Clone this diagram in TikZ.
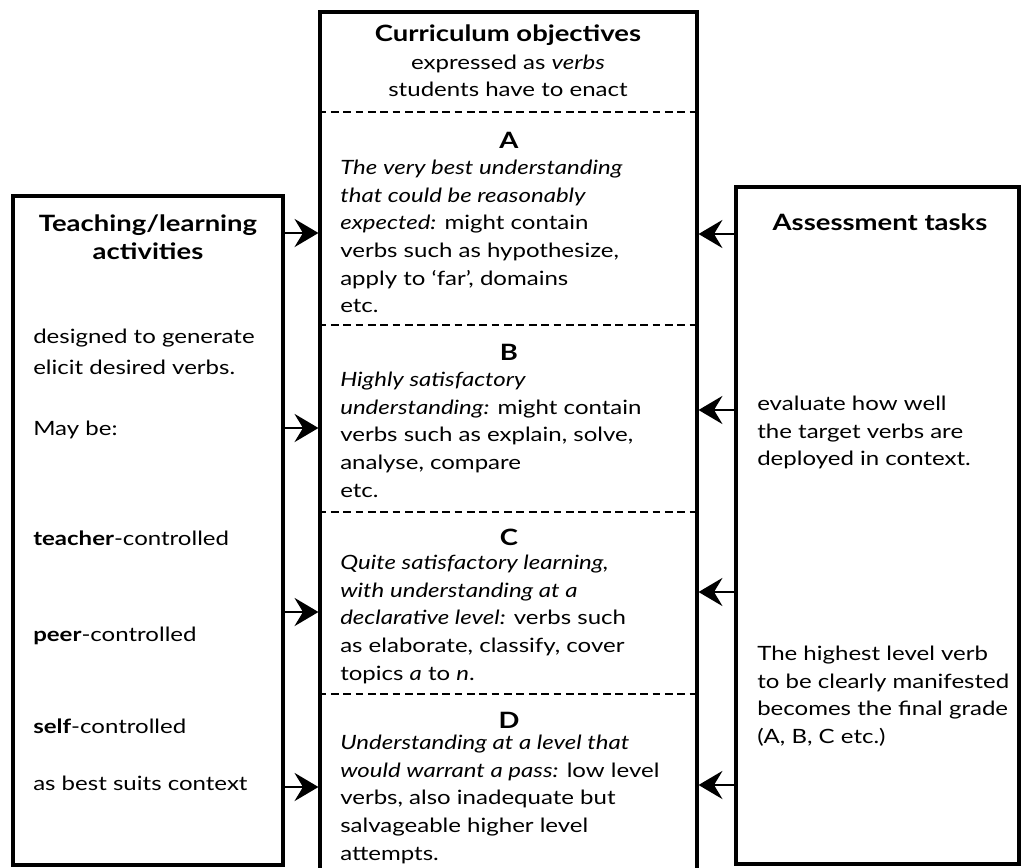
\documentclass[tikz,border=0pt]{standalone}
\usepackage{fontspec}
\setmainfont{Lato}[FakeStretch=1.22]
\usetikzlibrary{arrows.meta,fit}
\newcommand\txtsize{\fontsize{14}{19.6}\selectfont}
\newcommand\hdsize{\fontsize{16}{19.6}\selectfont\bfseries}

\begin{document}
\begin{tikzpicture}[x=0.025cm,y=-0.025cm]
    \useasboundingbox (0,0) rectangle (1022,868);
    \tikzset{panel/.style = {draw, line width=2.2pt, inner sep=0pt},
        divider/.style = {line width=1.5pt, dash pattern=on 5.5pt off 3.3pt},
        feed/.style = {-{Stealth[length=17pt,width=20pt,inset=6pt]}, line width=1.8pt},
        txt/.style = {inner sep=0pt, align=left, font=\txtsize},
        hd/.style = {inner sep=0pt, align=center, font=\hdsize},
        grade/.style = {inner sep=0pt, font=\hdsize}}
    % the three boxes
    \node[panel, fit={(13,196) (283,865)}] (teach) {};
    \node[panel, fit={(320,12) (697,880)}] (obj) {};
    \node[panel, fit={(736,187) (1019,864)}] (assess) {};
    % levels inside the objectives box
    \foreach \y in {112,325,512,694}
        \draw[divider] (obj.west |- 0,\y) -- (obj.east |- 0,\y);
    % arrows into the objectives
    \foreach \y in {233,428,612,787}
        \draw[feed] (teach.east |- 0,\y) -- (obj.west |- 0,\y);
    \foreach \y in {234,410,592,785}
        \draw[feed] (assess.west |- 0,\y) -- (obj.east |- 0,\y);
    % teaching/learning activities
    \node[hd] (teachhd) at (148,237) {Teaching/learning\\activities};
    \node[txt, anchor=west] (gen) at (33,338) {designed to generate};
    \node[txt, anchor=west] (elicit) at (33,367) {elicit desired verbs.};
    \node[txt, anchor=west] (maybe) at (33,430) {May be:};
    \node[txt, anchor=west] (teacher) at (33,538) {\textbf{teacher}-controlled};
    \node[txt, anchor=west] (peer) at (33,636) {\textbf{peer}-controlled};
    \node[txt, anchor=west] (self) at (33,726) {\textbf{self}-controlled};
    \node[txt, anchor=west] (suits) at (33,783) {as best suits context};
    % curriculum objectives
    \node[hd] (objhd) at (508,61) {Curriculum objectives\\
        {\txtsize\mdseries expressed as \textit{verbs}}\\
        {\txtsize\mdseries students have to enact}};
    \node[grade] (gA) at (509,140) {A};
    \node[txt, anchor=north west] (descA) at (340,160) {\textit{The very best understanding}\\
        \textit{that could be reasonably}\\
        \textit{expected:} might contain\\
        verbs such as hypothesize,\\
        apply to `far', domains\\
        etc.};
    \node[grade] (gB) at (509,352) {B};
    \node[txt, anchor=north west] (descB) at (340,372) {\textit{Highly satisfactory}\\
        \textit{understanding:} might contain\\
        verbs such as explain, solve,\\
        analyse, compare\\
        etc.};
    \node[grade] (gC) at (509,537) {C};
    \node[txt, anchor=north west] (descC) at (340,555) {\textit{Quite satisfactory learning,}\\
        \textit{with understanding at a}\\
        \textit{declarative level:} verbs such\\
        as elaborate, classify, cover\\
        topics \textit{a} to \textit{n}.};
    \node[grade] (gD) at (509,720) {D};
    \node[txt, anchor=north west] (descD) at (340,735) {\textit{Understanding at a level that}\\
        \textit{would warrant a pass:} low level\\
        verbs, also inadequate but\\
        salvageable higher level\\
        attempts.};
    % assessment tasks
    \node[hd] (assesshd) at (880,222) {Assessment tasks};
    \node[txt, anchor=north west] (evaluate) at (757,396) {evaluate how well\\
        the target verbs are\\
        deployed in context.};
    \node[txt, anchor=north west] (highest) at (757,646) {The highest level verb\\
        to be clearly manifested\\
        becomes the final grade\\
        (A, B, C etc.)};
\end{tikzpicture}
\end{document}
